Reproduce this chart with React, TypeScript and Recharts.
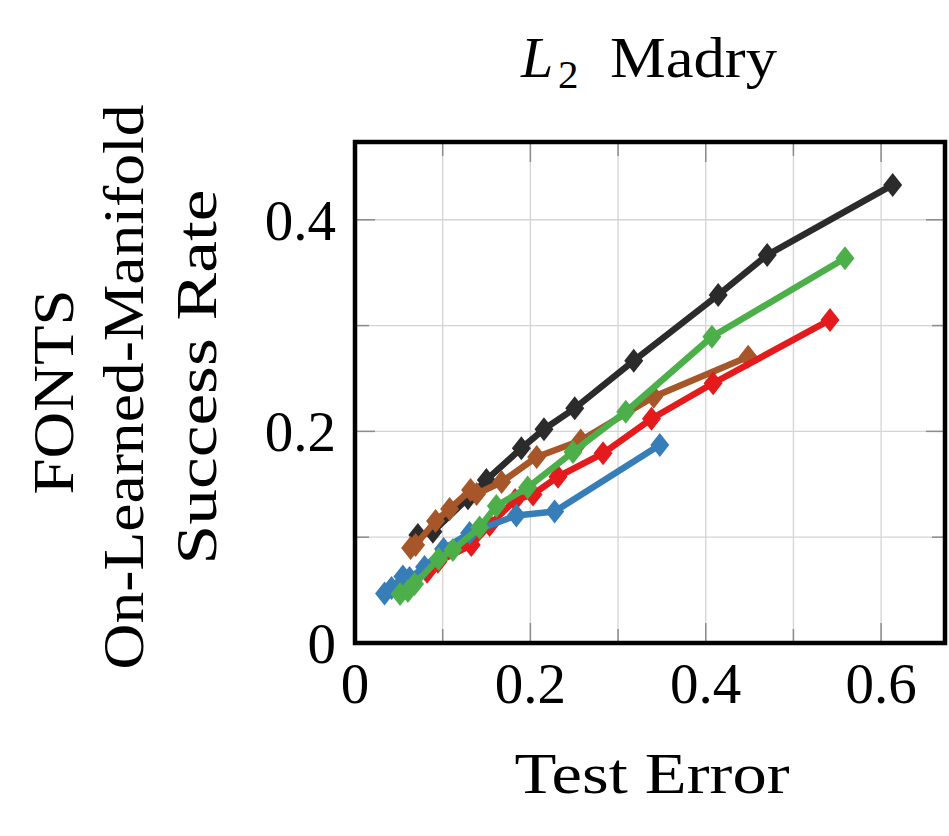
import React from 'react'
import { ScatterChart, Scatter, XAxis, YAxis, CartesianGrid } from 'recharts'

const W = 949
const H = 836
const FONT = '"Liberation Serif", "DejaVu Serif", serif'

// axis ranges and ticks
const xDomain = [0, 0.674]
const yDomain = [0, 0.4735]
const xTicks = [0, 0.1, 0.2, 0.3, 0.4, 0.5, 0.6]
const yTicks = [0, 0.1, 0.2, 0.3, 0.4]
const xLabels = ['0', '', '0.2', '', '0.4', '', '0.6']
const yLabels = ['0', '', '0.2', '', '0.4']

// series (test error, success rate)
const blackX = [0.0717, 0.0888, 0.1288, 0.1498, 0.1897, 0.2155, 0.2506, 0.3179, 0.4142, 0.4701, 0.6132]
const blackY = [0.1021, 0.1052, 0.1368, 0.1541, 0.184, 0.202, 0.2218, 0.2668, 0.3289, 0.3667, 0.4329]

const brownX = [0.0634, 0.0691, 0.0919, 0.1079, 0.1318, 0.1387, 0.1672, 0.2072, 0.2574, 0.3407, 0.4484]
const brownY = [0.0898, 0.0926, 0.1153, 0.1267, 0.1446, 0.1408, 0.1522, 0.1758, 0.1914, 0.2328, 0.2706]

const redX = [0.0822, 0.0945, 0.1326, 0.1535, 0.1826, 0.203, 0.2315, 0.2829, 0.3381, 0.4084, 0.5417]
const redY = [0.0674, 0.0768, 0.0926, 0.1115, 0.1352, 0.1404, 0.1572, 0.1793, 0.2119, 0.2455, 0.3053]

const blueX = [0.0337, 0.0417, 0.0546, 0.0622, 0.0793, 0.101, 0.1307, 0.184, 0.2277, 0.3476]
const blueY = [0.0468, 0.052, 0.0629, 0.0614, 0.0718, 0.0888, 0.104, 0.1205, 0.1243, 0.1871]

const greenX = [0.0514, 0.0603, 0.0679, 0.0953, 0.1116, 0.1421, 0.1612, 0.1969, 0.2486, 0.3088, 0.407, 0.5588]
const greenY = [0.0463, 0.0491, 0.0558, 0.0794, 0.0879, 0.1092, 0.1295, 0.147, 0.1805, 0.2186, 0.2895, 0.3636]

const zip = (xs: number[], ys: number[]) => xs.map((x, i) => ({ x, y: ys[i] }))

const series = [
  { name: 'black', color: '#2b2b2b', data: zip(blackX, blackY) },
  { name: 'brown', color: '#a65628', data: zip(brownX, brownY) },
  { name: 'red', color: '#e41a1c', data: zip(redX, redY) },
  { name: 'blue', color: '#377eb8', data: zip(blueX, blueY) },
  { name: 'green', color: '#4daf4a', data: zip(greenX, greenY) },
]

const isMajor = (v: number) => Math.round(v * 10) % 2 === 0
const TICK = '#8c8c8c'

const Diamond = (color: string) => (props: any) => {
  const { cx, cy } = props
  if (cx == null || cy == null) return null
  return <path d={`M${cx},${cy - 12}L${cx + 9.5},${cy}L${cx},${cy + 12}L${cx - 9.5},${cy}Z`} fill={color} stroke="none" />
}

// thick connecting line through the scatter points (points come from recharts' scales)
const ThickLine = (color: string) => (props: any) => {
  const pts = (props.points || [])
    .map((p: any) => `${p.x ?? p.cx},${p.y ?? p.cy}`)
    .join(' ')
  return <polyline points={pts} fill="none" stroke={color} strokeWidth={6.5} strokeLinejoin="round" strokeLinecap="round" />
}

const BottomTick = (props: any) => {
  const { x, y, payload, index } = props
  const len = isMajor(payload.value) ? 20 : 14
  return (
    <g>
      <line x1={x} x2={x} y1={y - 2} y2={y - len} stroke={TICK} strokeWidth={1.5} />
      <text x={x} y={y + 60} textAnchor="middle" fontFamily={FONT} fontSize={57} fill="#000">
        {xLabels[index]}
      </text>
    </g>
  )
}

const TopTick = (props: any) => {
  const { x, y, payload } = props
  const len = isMajor(payload.value) ? 20 : 14
  return <line x1={x} x2={x} y1={y + 2} y2={y + len} stroke={TICK} strokeWidth={1.5} />
}

const LeftTick = (props: any) => {
  const { x, y, payload, index } = props
  const len = isMajor(payload.value) ? 20 : 14
  return (
    <g>
      <line x1={x + 2} x2={x + len} y1={y} y2={y} stroke={TICK} strokeWidth={1.5} />
      <text x={x - 19} y={y + 20} textAnchor="end" fontFamily={FONT} fontSize={57} fill="#000">
        {yLabels[index]}
      </text>
    </g>
  )
}

const RightTick = (props: any) => {
  const { x, y, payload } = props
  const len = isMajor(payload.value) ? 20 : 14
  return <line x1={x - 2} x2={x - len} y1={y} y2={y} stroke={TICK} strokeWidth={1.5} />
}

export default function App() {
  return (
    <div style={{ position: 'absolute', left: 0, top: 0, width: W, height: H, background: '#fff' }}>
      <ScatterChart width={W} height={H} margin={{ top: 141, right: 2, bottom: 192, left: 354 }}>
        <CartesianGrid stroke="#d4d4d4" strokeWidth={1.3} />
        <XAxis xAxisId={0} type="number" dataKey="x" domain={xDomain} ticks={xTicks} allowDataOverflow
          height={1} tickSize={0} tickMargin={0} tickLine={false} axisLine={false} tick={<BottomTick />} interval={0} />
        <XAxis xAxisId={1} orientation="top" type="number" dataKey="x" domain={xDomain} ticks={xTicks} allowDataOverflow
          height={1} tickSize={0} tickMargin={0} tickLine={false} axisLine={false} tick={<TopTick />} interval={0} />
        <YAxis yAxisId={0} type="number" dataKey="y" domain={yDomain} ticks={yTicks} allowDataOverflow
          width={1} tickSize={0} tickMargin={0} tickLine={false} axisLine={false} tick={<LeftTick />} interval={0} />
        <YAxis yAxisId={1} orientation="right" type="number" dataKey="y" domain={yDomain} ticks={yTicks} allowDataOverflow
          width={1} tickSize={0} tickMargin={0} tickLine={false} axisLine={false} tick={<RightTick />} interval={0} />
        {series.map((s) => (
          <Scatter
            key={s.name}
            data={s.data}
            fill={s.color}
            line={ThickLine(s.color)}
            shape={Diamond(s.color)}
            isAnimationActive={false}
          />
        ))}
      </ScatterChart>
      <svg width={W} height={H} style={{ position: 'absolute', left: 0, top: 0, pointerEvents: 'none' }}>
        {/* plot frame */}
        <rect x={355} y={142} width={590} height={501} fill="none" stroke="#000" strokeWidth={4.5} />
        <g fontFamily={FONT} fill="#000">
          <text x={521} y={77} fontSize={58} fontStyle="italic">L</text>
          <text x={558} y={88} fontSize={41}>2</text>
          <text x={610} y={77} fontSize={58} textLength={167} lengthAdjust="spacingAndGlyphs">Madry</text>
          <text x={652} y={793} fontSize={58} textAnchor="middle" textLength={275} lengthAdjust="spacingAndGlyphs">Test Error</text>
          <text transform="translate(73,392) rotate(-90)" fontSize={58} textAnchor="middle" textLength={205} lengthAdjust="spacingAndGlyphs">FONTS</text>
          <text transform="translate(143,387) rotate(-90)" fontSize={58} textAnchor="middle" textLength={565} lengthAdjust="spacingAndGlyphs">On-Learned-Manifold</text>
          <text transform="translate(216,377) rotate(-90)" fontSize={58} textAnchor="middle" textLength={375} lengthAdjust="spacingAndGlyphs">Success Rate</text>
        </g>
      </svg>
    </div>
  )
}
